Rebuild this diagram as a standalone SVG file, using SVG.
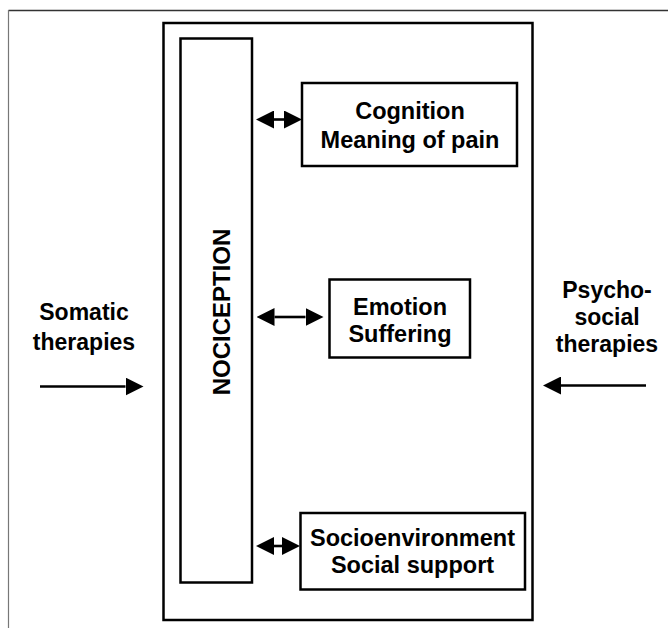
<svg xmlns="http://www.w3.org/2000/svg" width="668" height="628" viewBox="0 0 668 628">
  <style>
    .box { fill: #fff; stroke: #000; stroke-width: 2.5; }
    .lbl { font-family: "Liberation Sans", Arial, sans-serif; font-weight: bold; font-size: 23.5px; fill: #000; text-anchor: middle; }
    .conn { stroke: #000; stroke-width: 2.6; fill: none; }
  </style>
  <defs>
    <marker id="head" viewBox="0 0 18 18" refX="0" refY="9" markerWidth="18" markerHeight="18" markerUnits="userSpaceOnUse" orient="auto-start-reverse">
      <path d="M0,0 L18,9 L0,18 Z" fill="#000"/>
    </marker>
  </defs>
  <rect width="668" height="628" fill="#fff"/>
  <g id="frame">
    <line x1="8.5" y1="10.5" x2="668" y2="10.5" stroke="#333" stroke-width="1.3"/>
    <line x1="8.5" y1="10" x2="8.5" y2="628" stroke="#777" stroke-width="1.2"/>
  </g>
  <g id="main-box">
    <rect class="box" x="163.5" y="23" width="369" height="597"/>
  </g>
  <g id="nociception">
    <rect class="box" x="180.5" y="38.5" width="71.5" height="544"/>
    <text class="lbl" font-size="24" transform="translate(230,312) rotate(-90)" style="font-size:24px">NOCICEPTION</text>
  </g>
  <g id="cognition">
    <rect class="box" x="302" y="83" width="215" height="83"/>
    <text class="lbl" x="410" y="119">Cognition</text>
    <text class="lbl" x="410" y="148">Meaning of pain</text>
  </g>
  <g id="emotion">
    <rect class="box" x="329.5" y="279.5" width="140.5" height="78"/>
    <text class="lbl" x="400" y="315">Emotion</text>
    <text class="lbl" x="400" y="342">Suffering</text>
  </g>
  <g id="socioenvironment">
    <rect class="box" x="300.5" y="513" width="224.5" height="76.5"/>
    <text class="lbl" x="412.5" y="546">Socioenvironment</text>
    <text class="lbl" x="412.5" y="573">Social support</text>
  </g>
  <g id="somatic">
    <text class="lbl" x="84" y="320" style="font-size:23px">Somatic</text>
    <text class="lbl" x="84" y="350" style="font-size:23px">therapies</text>
  </g>
  <g id="psychosocial">
    <text class="lbl" x="607" y="298" style="font-size:23px">Psycho-</text>
    <text class="lbl" x="607" y="325" style="font-size:23px">social</text>
    <text class="lbl" x="607" y="352" style="font-size:23px">therapies</text>
  </g>
  <g id="connectors">
    <line class="conn" x1="274" y1="119.5" x2="284" y2="119.5" marker-start="url(#head)" marker-end="url(#head)"/>
    <line class="conn" x1="274.5" y1="317" x2="305.5" y2="317" marker-start="url(#head)" marker-end="url(#head)"/>
    <line class="conn" x1="274" y1="546" x2="282" y2="546" marker-start="url(#head)" marker-end="url(#head)"/>
    <line class="conn" x1="40" y1="386.5" x2="125.5" y2="386.5" marker-end="url(#head)"/>
    <line class="conn" x1="646" y1="385.5" x2="561" y2="385.5" marker-end="url(#head)"/>
  </g>
</svg>
